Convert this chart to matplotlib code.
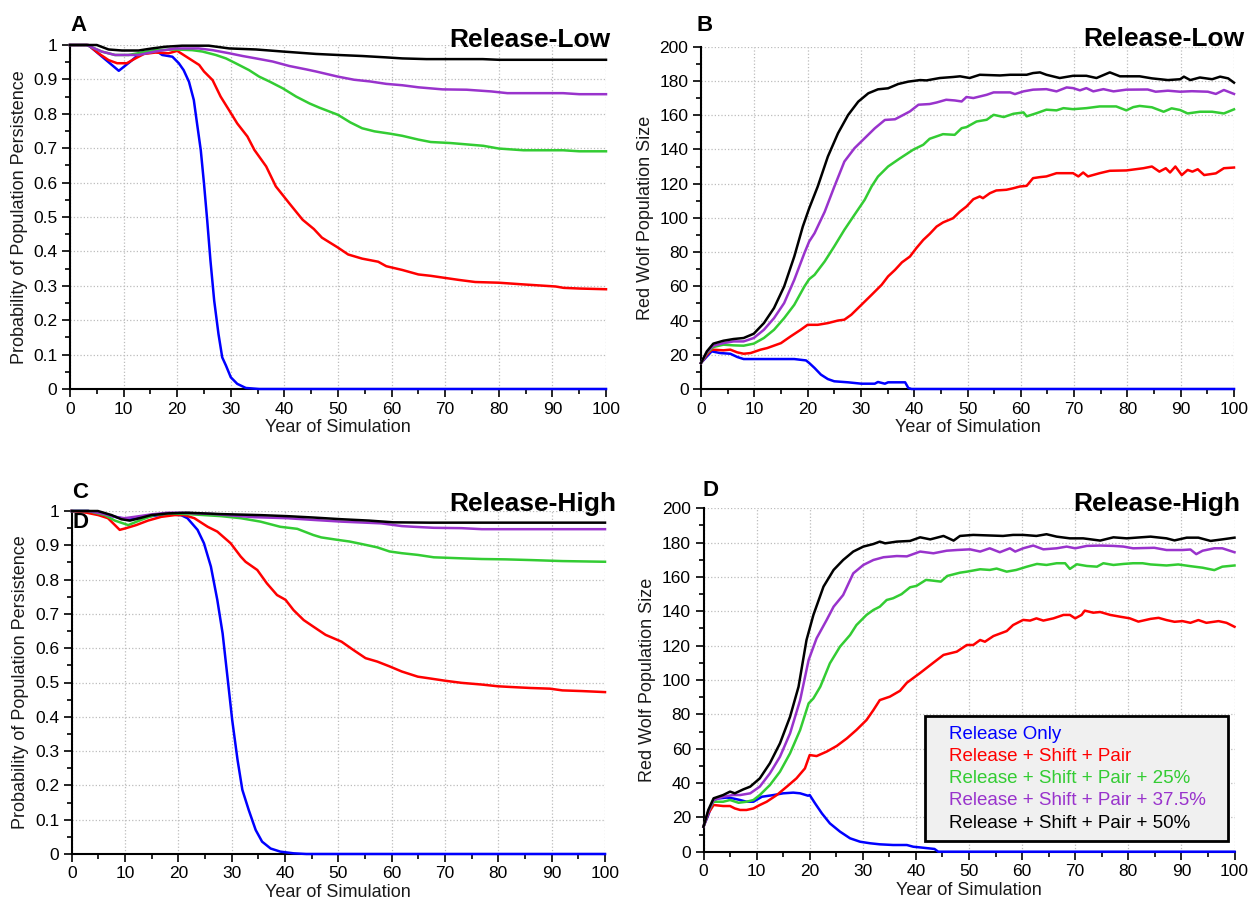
import matplotlib
matplotlib.use("Agg")
import matplotlib.pyplot as plt
from matplotlib.ticker import MultipleLocator, FuncFormatter

plt.rcParams['font.family'] = ['Liberation Sans', 'DejaVu Sans']

# (year, value) pairs
low_prob_blue = [(0,1),(3.4,1),(9.1,0.925),(11.2,0.951),(13.1,0.976),(15.9,0.985),(17.2,0.971),(19.1,0.966),(20.3,0.947),(21.2,0.927),(22.2,0.893),(23.1,0.84),(23.7,0.772),(24.4,0.694),(25,0.597),(25.6,0.49),(26.2,0.374),(26.9,0.257),(27.7,0.16),(28.4,0.092),(29.1,0.068),(30,0.034),(31.2,0.015),(32.8,0.003),(35.3,0),(100,0)]
low_prob_red = [(0,1),(3.4,1),(5.3,0.976),(7.2,0.956),(8.8,0.947),(10.6,0.947),(12.2,0.961),(13.8,0.974),(15.9,0.978),(18.4,0.976),(20,0.983),(22.2,0.961),(24.1,0.942),(25,0.923),(26.6,0.898),(28.1,0.85),(29.7,0.81),(31.2,0.772),(33.1,0.734),(34.4,0.695),(36.6,0.647),(38.4,0.589),(40.9,0.54),(43.4,0.492),(45.5,0.465),(47,0.44),(50,0.411),(51.9,0.391),(54.5,0.379),(57.5,0.37),(59,0.357),(62,0.346),(65,0.333),(67.3,0.329),(69.5,0.324),(72.6,0.317),(75.6,0.311),(80,0.309),(84.6,0.304),(87.6,0.301),(90.6,0.298),(92.1,0.294),(95.1,0.292),(100,0.29)]
low_prob_green = [(0,1),(3.1,1),(5.9,0.981),(8.4,0.971),(10.9,0.971),(13.4,0.978),(15.9,0.985),(19.7,0.987),(22.8,0.985),(24.7,0.981),(27.2,0.971),(29.1,0.961),(30.9,0.947),(33.4,0.927),(35.3,0.908),(37.2,0.894),(39.7,0.874),(42.2,0.85),(44.7,0.83),(46.5,0.818),(50,0.797),(52.3,0.775),(54.5,0.758),(56.8,0.749),(59.8,0.742),(62,0.736),(65,0.725),(67.3,0.718),(71,0.715),(73.3,0.712),(77.1,0.707),(80,0.699),(84.6,0.694),(92,0.694),(95,0.691),(100,0.691)]
low_prob_purple = [(0,1),(3.1,1),(5.9,0.981),(8.4,0.971),(12.8,0.971),(15.9,0.981),(19.7,0.99),(24,0.99),(26.6,0.985),(29.7,0.976),(32.2,0.968),(34.7,0.961),(37.8,0.952),(40.9,0.939),(44.1,0.929),(45.9,0.923),(50,0.908),(53,0.899),(56,0.894),(59,0.887),(62,0.883),(65,0.877),(69.5,0.871),(74,0.87),(78.6,0.865),(81.6,0.86),(92,0.86),(95,0.857),(100,0.857)]
low_prob_black = [(0,1),(5,1),(7.2,0.987),(9.7,0.984),(12.8,0.984),(15.3,0.99),(17.8,0.995),(20.9,0.998),(25.9,0.998),(29.7,0.99),(34.7,0.987),(39.7,0.981),(45.9,0.974),(50,0.971),(54.5,0.968),(59,0.964),(62,0.961),(66.5,0.959),(77,0.959),(80,0.957),(100,0.957)]

high_prob_blue = [(0,1),(3.1,1),(6.8,0.988),(9.3,0.979),(10.6,0.974),(12.4,0.979),(14.9,0.985),(18,0.991),(20.5,0.988),(21.7,0.979),(23.6,0.945),(24.8,0.906),(26.1,0.838),(27.3,0.741),(28.3,0.643),(29.2,0.517),(30.1,0.39),(31.1,0.274),(32,0.187),(33.2,0.128),(34.5,0.07),(35.7,0.036),(37.3,0.016),(39.1,0.007),(41.6,0.002),(44,0),(100,0)]
high_prob_red = [(0,1),(2.8,0.995),(5,0.988),(6.8,0.979),(8.1,0.959),(9,0.945),(10.2,0.95),(12.1,0.959),(14.3,0.972),(16.8,0.983),(19.3,0.988),(21.1,0.988),(23,0.979),(25.5,0.954),(27.3,0.94),(29.8,0.906),(31.7,0.867),(32.6,0.852),(34.8,0.828),(36.6,0.789),(38.5,0.755),(40.1,0.741),(41.6,0.711),(43.5,0.682),(45.3,0.663),(47.6,0.639),(50.6,0.619),(52.8,0.595),(55.1,0.571),(57.3,0.561),(59.6,0.547),(61.9,0.532),(64.9,0.517),(67.1,0.512),(70.1,0.505),(73.1,0.499),(76.9,0.494),(79.9,0.489),(82.2,0.487),(86,0.484),(89.7,0.482),(92,0.477),(95.7,0.475),(100,0.472)]
high_prob_green = [(0,1),(3.1,1),(6.2,0.988),(8.1,0.972),(10.6,0.959),(13,0.974),(15.5,0.988),(18.6,0.993),(21.7,0.991),(28,0.985),(31.7,0.979),(35.4,0.969),(39.1,0.954),(42.3,0.948),(45.3,0.93),(46.8,0.923),(49.8,0.916),(52.1,0.911),(54.3,0.904),(57.3,0.894),(59.6,0.882),(61.9,0.877),(64.9,0.872),(67.9,0.865),(73.1,0.862),(76.9,0.86),(81.4,0.859),(86,0.857),(92,0.854),(100,0.852)]
high_prob_purple = [(0,1),(3.1,1),(5.6,0.993),(8.1,0.983),(9.9,0.979),(11.8,0.983),(14.9,0.99),(18,0.995),(20.5,0.995),(26.7,0.991),(34.2,0.982),(40.4,0.979),(45.3,0.974),(50.6,0.969),(58,0.964),(61.9,0.956),(64.1,0.954),(67.9,0.951),(73.1,0.95),(76.9,0.947),(100,0.947)]
high_prob_black = [(0,1),(4.9,1),(7.5,0.988),(9.3,0.976),(10.9,0.972),(12.7,0.979),(14.9,0.988),(18,0.993),(21.7,0.995),(28,0.991),(35.4,0.988),(40.4,0.985),(45.3,0.981),(50.6,0.976),(55.8,0.972),(60.3,0.967),(67.1,0.966),(100,0.966)]

low_pop_blue = [(0,15.2),(1.1,19),(2,22),(3.6,21),(5.5,20.6),(6.8,18.7),(8,17.5),(17.5,17.5),(19.7,16.7),(20.3,15.2),(21.3,12.3),(22.5,8.4),(23.8,5.8),(25,4.5),(27.6,3.9),(30.1,3.1),(32.6,3.1),(33.2,4.1),(34.5,3.1),(35.1,3.9),(38.3,3.9),(38.9,0.6),(39.5,0),(100,0)]
low_pop_red = [(0,15.2),(1.1,20),(2,23),(4.2,22.6),(5.5,23),(6.8,21.4),(8,20.6),(9.3,21),(11.2,23),(12.4,23.9),(15,26.8),(16.8,30.7),(18.7,34.6),(20,37.5),(21.9,37.5),(23.8,38.5),(25.7,40),(26.9,40.5),(28.2,43.4),(30.1,49.2),(32,55),(33.9,60.9),(35.1,65.8),(36.4,69.6),(37.7,74),(39.2,77.4),(40.4,82.3),(41.7,87.1),(42.9,90.6),(44.2,94.9),(45.4,97.3),(47.3,99.8),(48.6,103.7),(49.8,106.6),(51.1,110.9),(52.3,112.5),(52.9,111.5),(54.2,114.4),(55.4,116),(57.3,116.4),(58.6,117.3),(59.8,118.3),(61.1,118.7),(62.3,123.2),(63.6,123.8),(64.8,124.2),(66.7,126.1),(69.8,126.1),(70.8,124.2),(71.7,126.5),(72.6,124.2),(74.8,126.1),(76.7,127.5),(79.8,127.7),(83,129),(84.6,130),(86,127),(87.2,129),(88,126.5),(89,130),(90.2,125),(91.3,128),(92.2,127),(93.2,128.4),(94.4,125),(96.6,126),(98.1,129),(100,129.4)]
low_pop_green = [(0,15.2),(1.1,21),(2.3,24.5),(4.2,25.9),(6.1,25.5),(8,25.3),(9.9,26.5),(11.8,29.8),(13.7,34.6),(15.6,41.4),(17.5,49.2),(19.4,59.9),(20.3,64.2),(21.3,66.7),(23.2,74.5),(25,83.3),(26.9,93),(28.8,101.8),(30.7,110.5),(32,118.3),(33.2,124.1),(35.1,130),(37.2,134.5),(39.8,139.8),(41.7,142.7),(42.9,146.2),(45.4,148.9),(47.6,148.5),(48.9,152.4),(49.8,153),(51.7,156.3),(53.6,157.3),(54.9,160.2),(56.8,158.9),(58.6,160.8),(60.5,161.6),(61.1,159.3),(63,161.2),(64.8,163.2),(66.7,162.8),(68,164.1),(69.8,163.5),(72.3,164.1),(74.8,165.1),(77.9,165.1),(79.8,162.8),(81.1,164.7),(82.3,165.4),(84.6,164.6),(86.8,162),(88.3,164),(89.9,163),(91.3,161),(93.6,162),(95.9,162),(98.1,161),(100,163.4)]
low_pop_purple = [(0,15.2),(1.1,21.4),(2.3,25.3),(4.2,26.8),(6.1,27.8),(8,27.8),(9.9,29.8),(11.8,34.6),(13.7,41.4),(15.6,50.2),(17.5,63.8),(19.4,79.4),(20.3,86.2),(21.3,91),(23.2,103.5),(25,118.1),(26.9,132.9),(28.8,140.7),(30.7,146.5),(32.6,152.3),(34.5,157.2),(36.4,157.6),(38.3,160.7),(39.2,162.2),(40.8,166.1),(42.9,166.5),(44.2,167.4),(46,169),(47.6,168.6),(48.9,168),(49.8,170.6),(51.1,170),(53.6,171.9),(54.9,173.3),(58,173.3),(58.9,172.3),(60.5,173.9),(62.3,174.9),(64.8,175.2),(66.7,173.9),(68.6,176.2),(69.8,175.8),(71.1,174.5),(72.3,175.8),(73.6,173.9),(75.5,175.2),(77.4,173.9),(79.8,174.9),(83.8,175),(85.3,173.7),(87.6,174.3),(89.9,173.7),(92.1,174),(95.1,173.7),(96.6,172.4),(98.1,174.7),(100,172.4)]
low_pop_black = [(0,15.2),(1.1,22),(2.3,26.5),(4.2,28.2),(6.1,29.2),(8,29.8),(9.9,32.3),(11.8,38.5),(13.7,47.3),(15.6,59.9),(17.5,77.4),(19.1,94.9),(20.3,105.6),(21.9,118.3),(23.8,135.8),(25.7,149.4),(27.6,160.1),(29.5,167.9),(31.4,172.8),(33.2,175.1),(35.1,175.7),(37,178.2),(38.9,179.6),(41.1,180.5),(42.3,180.3),(44.8,181.7),(47.3,182.3),(48.6,182.7),(50.4,181.7),(52.3,183.6),(56.1,183.2),(58,183.6),(61.1,183.6),(62.3,184.6),(63.6,185),(64.8,183.6),(67.3,181.7),(69.8,183),(72.3,183),(74.2,181.7),(76.7,185),(78.6,182.7),(82.3,182.7),(84.6,181.5),(87.6,180.5),(89.9,181),(90.6,182.5),(91.8,180.5),(93.6,182),(95.9,181),(97.4,182.5),(98.9,181.5),(100,179)]

high_pop_blue = [(0,14.6),(0.9,21.4),(1.9,30.1),(2.8,31),(4.4,31.5),(5.6,31),(6.9,30.1),(8.1,29.1),(9.4,29.1),(11,32),(13.2,33),(15,34),(16.9,34.4),(18.2,34),(19.7,32.6),(20,33),(21,28.2),(22.3,22.3),(23.8,16.5),(25.7,11.7),(27.6,7.8),(29.5,5.8),(31.4,4.9),(33.2,4.3),(35.7,3.9),(38.3,3.9),(39.5,2.9),(40.8,2.5),(42,2.1),(43.5,1.6),(44.2,0),(100,0)]
high_pop_red = [(0,14.6),(0.9,22.3),(1.9,27.2),(3.7,26.6),(5,26.6),(5.9,25.2),(6.9,24.3),(8.1,24.3),(9.4,25.2),(10.6,27.2),(11.9,29.1),(13.8,33),(15.7,37.9),(17.5,42.7),(19.1,48.5),(20,56.3),(21.3,55.7),(23.2,58.3),(25.1,61.6),(27,66),(28.8,70.9),(30.7,76.7),(32,82.5),(33.2,88.3),(35.1,90.3),(37,93.7),(38.3,98.4),(40.8,104.1),(43.3,110.1),(45.2,114.6),(47.7,116.5),(49.6,120.4),(50.8,120.4),(52.1,123.3),(53,122.3),(54.6,125.6),(57.1,128.5),(58.3,132),(60.2,135),(61.5,134.6),(62.7,135.9),(64,134.6),(65.9,135.9),(67.8,137.9),(69,137.9),(70,135.9),(71.2,137.9),(71.8,140.4),(73.4,139.2),(74.7,139.6),(76.6,137.9),(78.4,136.9),(80.3,135.9),(81.9,134),(84.2,135.6),(85.7,136.2),(87.2,134.9),(88.7,133.9),(90.2,134.3),(91.7,133.3),(93.2,134.9),(94.7,133.3),(97,134.3),(98.5,133.3),(100,131)]
high_pop_green = [(0,14.6),(0.9,23.3),(1.9,29.1),(3.7,29.1),(5,30.1),(6.6,28.5),(8.1,29.1),(9.4,30.1),(10.6,33),(12.5,38.8),(14.4,46.6),(16.3,57.3),(18.2,70.9),(19.8,86.4),(20.7,89.3),(22,96.1),(23.8,109.7),(25.7,119.4),(27.6,126.2),(28.8,132),(30.7,137.9),(32,140.8),(33.2,142.7),(34.5,146.6),(35.7,147.6),(37.3,150),(38.9,154),(40.1,154.8),(41.9,158.3),(43.1,157.9),(44.7,157.3),(45.9,160.6),(48.3,162.5),(49.6,163.1),(52.1,164.5),(53.9,164.1),(55.2,164.9),(57.1,163.1),(58.9,164.1),(60.9,166),(62.8,167.6),(64.6,167),(66.5,168),(68.1,168),(69,164.7),(70.3,167.4),(72.2,166.4),(74.1,166),(75.3,168),(77.2,167),(79.1,167.6),(80.9,168),(82.7,168),(84.2,167.3),(87.2,166.7),(89.4,167.3),(91.7,166.3),(94,165.4),(96.2,164),(97.7,166),(100,166.7)]
high_pop_purple = [(0,14.6),(0.9,23.3),(1.9,30.1),(3.7,32),(5.6,33),(6.9,33),(8.8,34),(10.6,37.9),(12.5,45.6),(14.4,55.3),(16.3,68.9),(18.2,88.3),(19.8,111.7),(21.3,124.3),(23.2,135),(24.5,142.7),(26.3,149.5),(28.2,162.1),(30.1,167),(32,169.9),(33.9,171.5),(36.4,172.2),(38.3,172),(40.8,174.8),(43.3,173.8),(45.8,175.3),(47.7,175.7),(50.2,176.1),(52.1,174.8),(53.9,176.7),(55.8,174.4),(57.7,176.7),(58.7,174.8),(60.2,176.7),(62.1,178.3),(64,176.1),(66.5,176.7),(68.4,177.7),(70,176.7),(72.2,178.1),(74.7,178.3),(77.2,178.1),(79.1,177.7),(80.9,176.7),(84.9,177),(87.2,175.7),(90.2,175.7),(91.7,176),(92.8,173.3),(94,175.3),(96.2,176.7),(97.7,176.7),(100,174.4)]
high_pop_black = [(0,14.6),(0.9,24.3),(1.9,31.1),(3.7,33),(5,35),(5.9,34),(7.5,36.3),(8.8,37.9),(10.6,42.7),(12.5,51.5),(14.4,63.1),(16.3,78.6),(17.9,96.1),(19.4,123.3),(20.7,137.9),(22.6,154.4),(24.5,164.1),(26.3,169.9),(28.2,174.8),(30.1,177.7),(32,179.2),(33.2,180.6),(34.2,179.6),(36.4,180.6),(38.9,181),(40.8,183.1),(42.7,181.9),(45.2,183.9),(47.1,181.2),(48.3,183.9),(50.8,184.5),(56.4,183.9),(58.3,184.5),(60.2,184.5),(62.7,183.9),(64.6,184.9),(66.5,183.5),(69,182.5),(71.5,182.5),(74.7,181.2),(77.2,183.1),(79.7,182.5),(81.9,183),(84.2,183.5),(87.2,182.5),(88.7,181.3),(91,182.9),(93.2,182.9),(95.5,181),(97.7,181.9),(100,182.9)]

scenarios = ['Release Only', 'Release + Shift + Pair', 'Release + Shift + Pair + 25%',
             'Release + Shift + Pair + 37.5%', 'Release + Shift + Pair + 50%']
colors = ['#0000ff', '#ff0000', '#33cc33', '#9933cc', '#000000']

W, H = 1256, 907
fig = plt.figure(figsize=(W / 100, H / 100), dpi=100)


def px_axes(l, t, r, b):
    return fig.add_axes([l / W, 1 - b / H, (r - l) / W, (b - t) / H])


def style(ax, kind):
    ax.set_xlim(0, 100)
    ax.xaxis.set_major_locator(MultipleLocator(10))
    ax.xaxis.set_minor_locator(MultipleLocator(5))
    if kind == 'prob':
        ax.set_ylim(0, 1)
        ax.yaxis.set_major_locator(MultipleLocator(0.1))
        ax.yaxis.set_minor_locator(MultipleLocator(0.05))
        ax.yaxis.set_major_formatter(FuncFormatter(lambda v, p: '%g' % round(v, 2)))
        ax.set_ylabel('Probability of Population Persistence', fontsize=13, color='#1a1a1a', labelpad=4)
    else:
        ax.set_ylim(0, 200)
        ax.yaxis.set_major_locator(MultipleLocator(20))
        ax.yaxis.set_minor_locator(MultipleLocator(10))
        ax.set_ylabel('Red Wolf Population Size', fontsize=13, color='#1a1a1a', labelpad=4)
    ax.set_xlabel('Year of Simulation', fontsize=13, color='#1a1a1a', labelpad=2)
    ax.grid(True, which='major', ls=':', color='#bcbcbc', lw=0.9)
    ax.set_axisbelow(True)
    for s in ['top', 'right']:
        ax.spines[s].set_visible(False)
    for s in ['left', 'bottom']:
        ax.spines[s].set_linewidth(1.5)
    ax.tick_params(which='major', direction='out', length=6, width=1.2, labelsize=12.5, pad=3)
    ax.tick_params(which='minor', direction='out', length=3.5, width=1.2)


def draw(ax, series):
    lines = []
    for pts, c, name in zip(series, colors, scenarios):
        xs = [p[0] for p in pts]
        ys = [p[1] for p in pts]
        ln, = ax.plot(xs, ys, color=c, lw=1.8, clip_on=False, label=name, zorder=3)
        lines.append(ln)
    return lines


axA = px_axes(70, 45, 606, 389)
axB = px_axes(701, 46.7, 1234, 389)
axC = px_axes(71.7, 511, 605, 854)
axD = px_axes(703.5, 508.3, 1234.5, 851.7)

for ax, kind in [(axA, 'prob'), (axB, 'pop'), (axC, 'prob'), (axD, 'pop')]:
    style(ax, kind)

draw(axA, [low_prob_blue, low_prob_red, low_prob_green, low_prob_purple, low_prob_black])
draw(axB, [low_pop_blue, low_pop_red, low_pop_green, low_pop_purple, low_pop_black])
draw(axC, [high_prob_blue, high_prob_red, high_prob_green, high_prob_purple, high_prob_black])
linesD = draw(axD, [high_pop_blue, high_pop_red, high_pop_green, high_pop_purple, high_pop_black])


def ftext(x, y, s, size, ha='left'):
    fig.text(x / W, 1 - y / H, s, fontsize=size, fontweight='bold', ha=ha, va='baseline')


ftext(70, 31, 'A', 16)
ftext(610, 47, 'Release-Low', 19, ha='right')
ftext(697, 31, 'B', 16)
ftext(1244, 46, 'Release-Low', 19, ha='right')
ftext(72, 498, 'C', 16)
ftext(72, 528, 'D', 16)
ftext(616, 511, 'Release-High', 19, ha='right')
ftext(703, 496, 'D', 16)
ftext(1240, 511, 'Release-High', 19, ha='right')

x0 = (925 - 703.5) / 531
y0 = (851.7 - 841) / 343.4
leg = axD.legend(handles=linesD, loc='lower left', bbox_to_anchor=(x0, y0, (1228 - 925) / 531, 0.36),
                 mode='expand', fontsize=13.5, labelcolor='linecolor', handlelength=0.6,
                 handletextpad=0.2, borderpad=0.5, labelspacing=0.27, fancybox=False,
                 framealpha=1, facecolor='#f0f0f0', edgecolor='black', borderaxespad=0)
leg.get_frame().set_linewidth(2)
for h in leg.legend_handles:
    h.set_visible(False)

fig.savefig('out.png', dpi=100)
